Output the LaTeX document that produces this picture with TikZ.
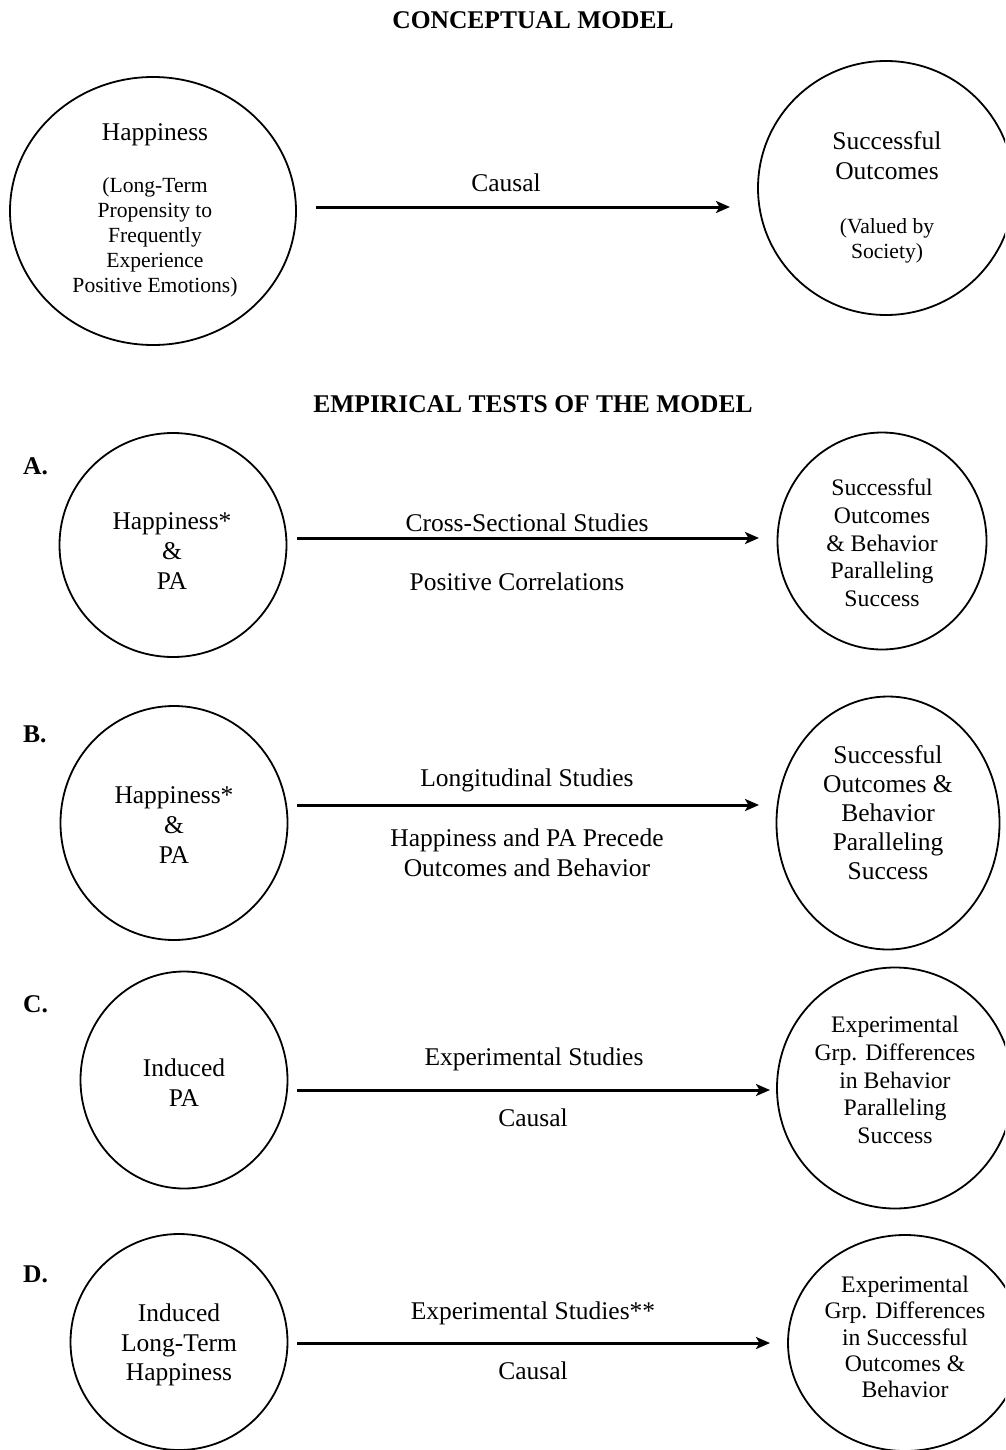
\documentclass[tikz,border=0pt]{standalone}
\usepackage{fontspec}
\setmainfont{Liberation Serif}
\usetikzlibrary{arrows.meta,shapes.geometric}
\begin{document}
\begin{tikzpicture}[x=1pt,y=-1pt,
  bubble/.style={draw, line width=1.8pt, ellipse, inner sep=0pt, outer sep=0pt},
  conn/.style={line width=3pt, -{Stealth[length=14pt,width=12pt,inset=3.5pt]}},
  big/.style={align=center, inner sep=0pt, font=\fontsize{25.5}{30}\selectfont},
  small/.style={align=center, inner sep=0pt, font=\fontsize{23.7}{27.7}\selectfont},
  tiny/.style={align=center, inner sep=0pt, font=\fontsize{21.6}{25}\selectfont},
  lbl/.style={anchor=base, inner sep=0pt, font=\fontsize{25.5}{30}\selectfont},
  head/.style={anchor=base, inner sep=0pt, font=\fontsize{25.5}{30}\selectfont\bfseries},
  letter/.style={anchor=base west, inner sep=0pt, font=\fontsize{25.5}{30}\selectfont\bfseries}]
\useasboundingbox (0,0) rectangle (1005,1450);
\fill[white] (0,0) rectangle (1005,1450);
\clip (0,0) rectangle (1005,1450);

% titles
\node[head] (t1) at (533,29) {CONCEPTUAL MODEL};
\node[head] (t2) at (533,412) {EMPIRICAL TESTS OF THE MODEL};

% conceptual model
\node[bubble, minimum width=286pt, minimum height=268pt] (cL) at (153,211) {};
\node[bubble, minimum width=256pt, minimum height=254pt] (cR) at (886,188) {};
\node[big] (cLt) at (155,135) {Happiness};
\node[tiny] (cLs) at (155,237) {(Long-Term\\Propensity to\\Frequently\\Experience\\Positive Emotions)};
\node[big] (cRt) at (887,156) {Successful\\Outcomes};
\node[tiny] (cRs) at (887,241) {(Valued by\\Society)};
\coordinate (c1) at (316,207);
\coordinate (c2) at (730,207);
\draw[conn] (c1) -- (c2);
\node[lbl] (cCausal) at (506,192) {Causal};

% A
\node[letter] (lA) at (23,474) {A.};
\node[bubble, minimum width=227pt, minimum height=224pt] (aL) at (173,545) {};
\node[bubble, minimum width=209pt, minimum height=217pt] (aR) at (882,541) {};
\node[big] (aLt) at (172,551) {Happiness*\\\&\\PA};
\node[small] (aRt) at (882,543) {Successful\\Outcomes\\\& Behavior\\Paralleling\\Success};
\coordinate (a1) at (297,538);
\coordinate (a2) at (759,538);
\draw[conn] (a1) -- (a2);
\node[lbl] (aUp) at (527,531) {Cross-Sectional Studies};
\node[lbl] (aDn) at (517,590) {Positive Correlations};

% B
\node[letter] (lB) at (23,742) {B.};
\node[bubble, minimum width=227pt, minimum height=234pt] (bL) at (174,823) {};
\node[bubble, minimum width=223pt, minimum height=253pt] (bR) at (888,823) {};
\node[big] (bLt) at (174,825) {Happiness*\\\&\\PA};
\node[big, font=\fontsize{25.5}{29}\selectfont] (bRt) at (888,813) {Successful\\Outcomes \&\\Behavior\\Paralleling\\Success};
\coordinate (b1) at (297,805);
\coordinate (b2) at (759,805);
\draw[conn] (b1) -- (b2);
\node[lbl] (bUp) at (527,786) {Longitudinal Studies};
\node[big] (bDn) at (527,853) {Happiness and PA Precede\\Outcomes and Behavior};

% C
\node[letter] (lC) at (23,1012) {C.};
\node[bubble, minimum width=207pt, minimum height=217pt] (kL) at (184,1080) {};
\node[bubble, minimum width=236pt, minimum height=241pt] (kR) at (895,1088) {};
\node[big] (kLt) at (184,1083) {Induced\\PA};
\node[small] (kRt) at (895,1080) {Experimental\\Grp. Differences\\in Behavior\\Paralleling\\Success};
\coordinate (k1) at (297,1090);
\coordinate (k2) at (770,1090);
\draw[conn] (k1) -- (k2);
\node[lbl] (kUp) at (534,1065) {Experimental Studies};
\node[lbl] (kDn) at (533,1126) {Causal};

% D
\node[letter] (lD) at (23,1282) {D.};
\node[bubble, minimum width=217pt, minimum height=216pt] (dL) at (179,1342) {};
\node[bubble, minimum width=234pt, minimum height=216pt] (dR) at (905,1343) {};
\node[big, font=\fontsize{25.5}{29.5}\selectfont] (dLt) at (179,1345) {Induced\\Long-Term\\Happiness};
\node[small, font=\fontsize{23.7}{26.4}\selectfont] (dRt) at (905,1337) {Experimental\\Grp. Differences\\in Successful\\Outcomes \&\\Behavior};
\coordinate (d1) at (297,1343);
\coordinate (d2) at (770,1343);
\draw[conn] (d1) -- (d2);
\node[lbl] (dUp) at (533,1319) {Experimental Studies**};
\node[lbl] (dDn) at (533,1379) {Causal};
\end{tikzpicture}
\end{document}
